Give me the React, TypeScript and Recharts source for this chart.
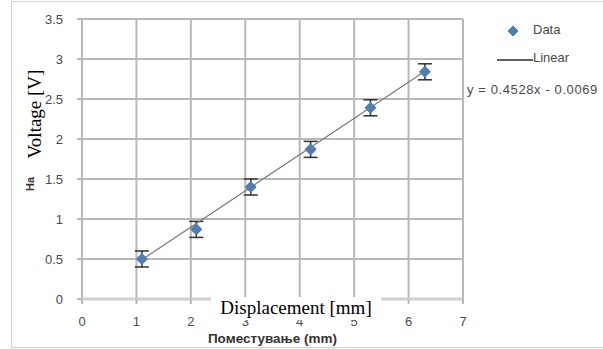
import {
	CartesianGrid,
	ErrorBar,
	Scatter,
	ScatterChart,
	XAxis,
	YAxis,
} from "recharts";

// measured displacement (mm) vs output voltage (V)
const displacement = [1.1, 2.1, 3.1, 4.2, 5.3, 6.3];
const voltage = [0.5, 0.87, 1.4, 1.87, 2.39, 2.84];
const voltageErr = [0.1, 0.1, 0.1, 0.1, 0.1, 0.1];

// least-squares fit shown in the legend
const slope = 0.4528;
const intercept = -0.0069;

const xTicks = [0, 1, 2, 3, 4, 5, 6, 7];
const yTicks = [0, 0.5, 1, 1.5, 2, 2.5, 3, 3.5];

const points = displacement.map((x, i) => ({
	x,
	y: voltage[i],
	err: voltageErr[i],
}));

const fitEnds = [displacement[0], displacement[displacement.length - 1]];
const fitLine = fitEnds.map((x) => ({ x, y: slope * x + intercept }));

const BLUE = "#4a7ebb";
const GRID = "#b8b8b8";
const TICK = { fontSize: 13, fill: "#4a4a4a", fontFamily: "Liberation Sans" };

const Diamond = (props: any) => {
	const { cx, cy } = props;
	if (cx == null || cy == null) return null;
	const r = 5;
	return (
		<path
			d={`M${cx},${cy - r}L${cx + r},${cy}L${cx},${cy + r}L${cx - r},${cy}Z`}
			fill={BLUE}
			stroke={BLUE}
			strokeWidth={1.5}
			strokeLinejoin="round"
		/>
	);
};

// y tick labels sit well clear of the tick marks
const YTick = (props: any) => (
	<text
		x={props.x - 12}
		y={props.y}
		dy={4.5}
		textAnchor="end"
		{...TICK}
	>
		{props.payload.value}
	</text>
);

const LegendBox = () => (
	<div
		style={{
			position: "absolute",
			left: 466,
			top: 22,
			width: 140,
			height: 80,
			fontFamily: "Liberation Sans",
			fontSize: 13,
			color: "#4a4a4a",
		}}
	>
		<svg
			width={12}
			height={12}
			style={{ position: "absolute", left: 41, top: 3 }}
		>
			<path d="M6,1L11,6L6,11L1,6Z" fill={BLUE} stroke={BLUE} />
		</svg>
		<span style={{ position: "absolute", left: 67, top: 0 }}>Data</span>
		<div
			style={{
				position: "absolute",
				left: 31,
				top: 37,
				width: 36,
				height: 0,
				borderTop: "2px solid #606060",
			}}
		/>
		<span style={{ position: "absolute", left: 67, top: 28 }}>Linear</span>
		<span
			style={{
				position: "absolute",
				left: 1,
				top: 60,
				whiteSpace: "nowrap",
				letterSpacing: 0.6,
			}}
		>
			y = {slope}x - {Math.abs(intercept)}
		</span>
	</div>
);

export default function App() {
	return (
		<div
			style={{
				position: "absolute",
				left: 0,
				top: 0,
				width: 603,
				height: 349,
				background: "#fff",
			}}
		>
			<div
				style={{
					position: "absolute",
					left: 11,
					top: 1,
					width: 600,
					height: 345,
					border: "1px solid #d0d0d0",
				}}
			/>
			<ScatterChart
				width={603}
				height={349}
				margin={{ top: 19, right: 140, bottom: 20, left: 22 }}
				style={{ position: "absolute", left: 0, top: 0 }}
			>
				<CartesianGrid stroke={GRID} strokeWidth={2} />
				<XAxis
					type="number"
					dataKey="x"
					domain={[0, 7]}
					ticks={xTicks}
					tick={TICK}
					tickLine={{ stroke: GRID, strokeWidth: 2 }}
					tickSize={5}
					tickMargin={13}
					axisLine={{ stroke: "#d0d0d0", strokeWidth: 3 }}
					height={30}
					label={{
						value: "Поместување (mm)",
						position: "insideBottom",
						offset: -14,
						style: {
							fontFamily: "Liberation Sans",
							fontSize: 13.5,
							fontWeight: "bold",
							fill: "#3a3030",
						},
					}}
				/>
				<YAxis
					type="number"
					dataKey="y"
					domain={[0, 3.5]}
					ticks={yTicks}
					tick={YTick}
					tickLine={{ stroke: GRID, strokeWidth: 2 }}
					tickSize={5}
					axisLine={false}
					width={60}
				/>
				<Scatter data={points} shape={Diamond} isAnimationActive={false}>
					<ErrorBar
						dataKey="err"
						direction="y"
						width={7}
						stroke="#303030"
						strokeWidth={1.5}
					/>
				</Scatter>
				<Scatter
					data={fitLine}
					line={{ stroke: "#7a7a7a", strokeWidth: 1.2 }}
					shape={() => null}
					isAnimationActive={false}
				/>
			</ScatterChart>
			<LegendBox />
			{/* fragment of the original axis title, left uncovered */}
			<div
				style={{
					position: "absolute",
					left: 22,
					top: 175,
					width: 16,
					height: 16,
					transform: "rotate(-90deg)",
					fontFamily: "Liberation Sans",
					fontWeight: "bold",
					fontSize: 11,
					color: "#3a3030",
					lineHeight: "16px",
				}}
			>
				На
			</div>
			<div
				style={{
					position: "absolute",
					left: 35 - 55,
					top: 114 - 9,
					width: 110,
					height: 18,
					transform: "rotate(-90deg)",
					background: "#fff",
					fontFamily: "Liberation Serif",
					fontSize: 19,
					lineHeight: "18px",
					textAlign: "center",
					color: "#000",
				}}
			>
				Voltage [V]
			</div>
			<div
				style={{
					position: "absolute",
					left: 211,
					top: 297,
					width: 170,
					height: 23,
					background: "#fff",
					fontFamily: "Liberation Serif",
					fontSize: 19,
					lineHeight: "22px",
					textAlign: "center",
					color: "#000",
				}}
			>
				Displacement [mm]
			</div>
		</div>
	);
}
